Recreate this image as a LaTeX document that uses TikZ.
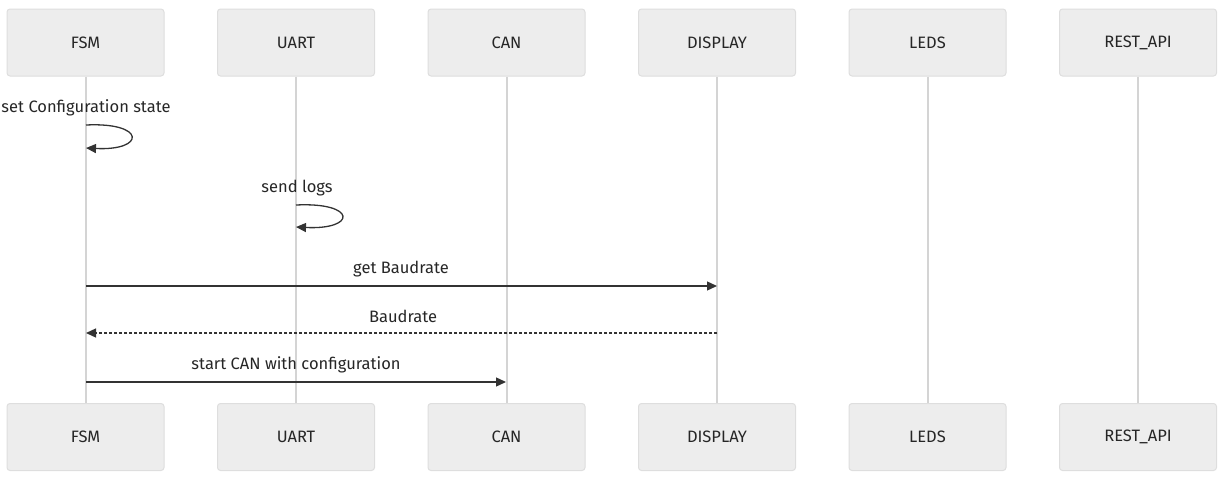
\documentclass[tikz,border=0pt]{standalone}
\usepackage{fontspec}
\setmainfont{Fira Sans}
\usetikzlibrary{arrows.meta}
\begin{document}
\begin{tikzpicture}[x=1pt,y=-1pt,
  actor/.style={draw=black!13,fill=black!7,rounded corners=3pt,line width=1pt,minimum width=157pt,minimum height=67pt,inner sep=0pt,font=\fontsize{16.5}{19}\selectfont,text=black!85},
  life/.style={draw=black!17,line width=2pt},
  msg/.style={draw=black!80,line width=1.3pt,-{Triangle[length=10pt,width=9pt]}},
  lbl/.style={font=\fontsize{16.5}{19}\selectfont,text=black!85,inner sep=0pt}]
\useasboundingbox (0,0) rectangle (1227,482);
\foreach \n/\x/\t in {fsm/85.5/FSM,uart/296/UART,can/506.5/CAN,disp/717/DISPLAY,leds/927.5/LEDS,rest/1138/REST\_API}{
  \node[actor] (\n t) at (\x,42.5) {\t};
  \node[actor] (\n b) at (\x,437) {\t};
  \draw[life] (\n t.south) -- (\n b.north);
}
% self loops
\coordinate (l1a) at (86,125);
\coordinate (l1b) at (86,148);
\node[lbl] (s1) at (86,108) {set Configuration state};
\draw[msg] (l1a) .. controls (146,122) and (146,151) .. (l1b);
\coordinate (l2a) at (296,205);
\coordinate (l2b) at (296,227);
\node[lbl] (s2) at (297,188) {send logs};
\draw[msg] (l2a) .. controls (357,202) and (357,230) .. (l2b);
% messages
\coordinate (m1a) at (86,286); \coordinate (m1b) at (717,286);
\node[lbl] (t1) at (401,269) {get Baudrate};
\draw[msg] (m1a) -- (m1b);
\coordinate (m2a) at (717,333); \coordinate (m2b) at (86,333);
\node[lbl] (t2) at (403,316) {Baudrate};
\draw[msg,dash pattern=on 3pt off 2pt] (m2a) -- (m2b);
\coordinate (m3a) at (86,382); \coordinate (m3b) at (506,382);
\node[lbl] (t3) at (296,365) {start CAN with configuration};
\draw[msg] (m3a) -- (m3b);
\end{tikzpicture}
\end{document}
